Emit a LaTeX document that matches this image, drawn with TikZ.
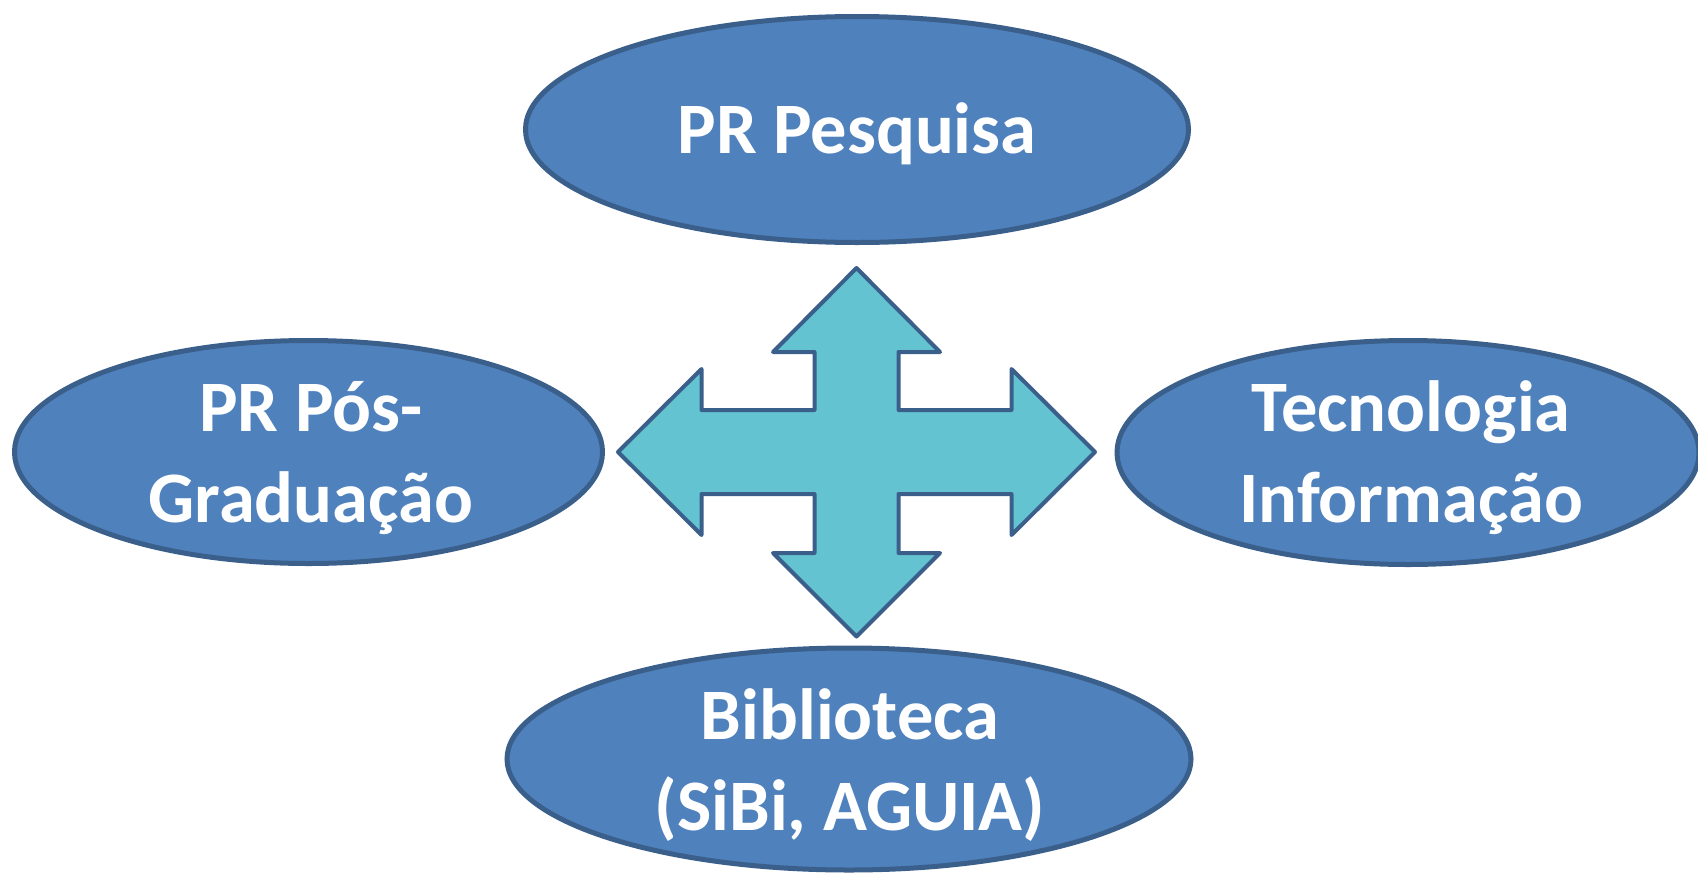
\documentclass[tikz,border=0pt]{standalone}
\usepackage{fontspec}
\setmainfont{Carlito}
\usetikzlibrary{shapes.geometric}
\definecolor{ellfill}{HTML}{4F81BD}
\definecolor{ellline}{HTML}{3A5F8B}
\definecolor{arrfill}{HTML}{64C3D1}
\begin{document}
\begin{tikzpicture}[x=1pt,y=-1pt,
  ell/.style={ellipse,draw=ellline,fill=ellfill,line width=5pt,inner sep=0pt},
  lbl/.style={text=white,font=\fontsize{72.5}{91}\selectfont\bfseries,align=center,inner sep=0pt},
  cross/.style={draw=ellline,fill=arrfill,line width=4pt,line join=round}]
\useasboundingbox (0,0) rectangle (1698,873);
% ellipses
\node[ell,minimum width=663pt,minimum height=226pt] (top) at (857,129.5) {};
\node[ell,minimum width=588pt,minimum height=223pt] (left) at (308.5,452) {};
\node[ell,minimum width=582pt,minimum height=224pt] (right) at (1408,452.5) {};
\node[ell,minimum width=684pt,minimum height=222pt] (bottom) at (849,759) {};
% texts
\node[lbl,anchor=base] (ttop) at (857,153) {PR Pesquisa};
\node[lbl] (tleft) at (311,458) {PR Pós-\\Graduação};
\node[lbl] (tright) at (1411,458) {Tecnologia\\Informação};
\node[lbl] (tbottom) at (850,765) {Biblioteca\\(SiBi, AGUIA)};
% four-way arrow
\draw[cross] (856.5,268) -- (940,352) -- (898.5,352) -- (898.5,410) -- (1011.5,410)
  -- (1011.5,369) -- (1095,452) -- (1011.5,535) -- (1011.5,494) -- (898.5,494)
  -- (898.5,553) -- (940,553) -- (856.5,636.5) -- (773,553) -- (814.5,553)
  -- (814.5,494) -- (701.5,494) -- (701.5,535) -- (618,452) -- (701.5,369)
  -- (701.5,410) -- (814.5,410) -- (814.5,352) -- (773,352) -- cycle;
\end{tikzpicture}
\end{document}
